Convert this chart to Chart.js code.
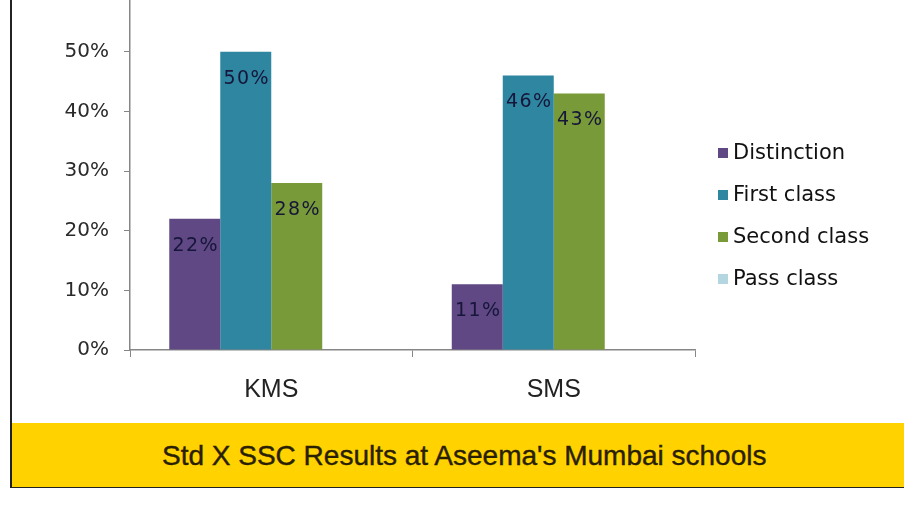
<!DOCTYPE html>
<html>
<head>
<meta charset="utf-8">
<script src="https://cdn.jsdelivr.net/npm/chart.js@4.4.1/dist/chart.umd.min.js"></script>
<style>
  html, body { margin: 0; padding: 0; background: #fff; }
  body { width: 904px; height: 507px; position: relative; overflow: hidden; }
  #frame {
    position: absolute; left: 10px; top: -4px; width: 900px; height: 490px;
    border-left: 2px solid #222; border-bottom: 2px solid #222;
  }
  #wrap { position: absolute; left: 0; top: -35px; width: 904px; height: 455px; }
  #legend {
    position: absolute; left: 718px; top: 131px;
    font-family: "DejaVu Sans", sans-serif; font-size: 21px; color: #111;
  }
  .item { height: 42px; line-height: 42px; white-space: nowrap; }
  .box { display: inline-block; width: 10px; height: 10px; margin-right: 5px; vertical-align: 1px; }
  #band {
    position: absolute; left: 12px; top: 423px; width: 892px; height: 64px;
    background: #ffd200;
  }
  #title {
    position: absolute; left: 162px; top: 442px; line-height: 28px;
    font-family: "Liberation Sans", Arial, sans-serif; font-size: 28px;
    color: #2a1f00; white-space: nowrap; -webkit-text-stroke: 0.4px #2a1f00;
  }
</style>
</head>
<body>
<div id="frame"></div>
<div id="wrap"><canvas id="chart" width="904" height="455"></canvas></div>
<div id="legend"></div>
<div id="band"></div>
<div id="title">Std X SSC Results at Aseema's Mumbai schools</div>
<script>
// values (percent)
const schools = ["KMS", "SMS"];
const seriesNames = ["Distinction", "First class", "Second class", "Pass class"];
const distinction = [22, 11];
const firstClass = [50, 46];
const secondClass = [28, 43];
const passClass = [0, 0];
const yTicks = [0, 10, 20, 30, 40, 50, 60];

const colors = ["#5f4883", "#2e86a0", "#799a38", "#b4d6e1"];
const axisGray = "#868686";

// draw the value inside each bar, a bit below its top
const barLabels = {
  id: "barLabels",
  afterDatasetsDraw(chart) {
    const ctx = chart.ctx;
    ctx.save();
    ctx.font = '19px "DejaVu Sans", sans-serif';
    ctx.letterSpacing = "1.5px";
    ctx.fillStyle = "#16163a";
    ctx.textAlign = "center";
    ctx.textBaseline = "middle";
    chart.data.datasets.forEach((ds, i) => {
      chart.getDatasetMeta(i).data.forEach((bar, j) => {
        const v = ds.data[j];
        if (!v) return;
        ctx.fillText(v + "%", bar.x + 1, bar.y + 27);
      });
    });
    ctx.restore();
  },
};

const seriesData = [distinction, firstClass, secondClass, passClass];

new Chart(document.getElementById("chart"), {
  type: "bar",
  data: {
    labels: schools,
    datasets: seriesNames.map((name, i) => ({
      label: name,
      data: seriesData[i],
      backgroundColor: colors[i],
      borderWidth: 0,
      categoryPercentage: 0.722,
      barPercentage: 1,
    })),
  },
  options: {
    responsive: false,
    animation: false,
    layout: { padding: { left: 0, right: 209, top: 17, bottom: 0 } },
    plugins: { legend: { display: false }, tooltip: { enabled: false } },
    scales: {
      x: {
        grid: {
          display: true, drawOnChartArea: false, drawTicks: true,
          tickLength: 7, color: axisGray, offset: true,
        },
        border: { display: true, color: axisGray, width: 1.5 },
        ticks: {
          color: "#222",
          padding: 18,
          font: { family: '"Liberation Sans", Arial, sans-serif', size: 25 },
        },
        afterFit: (scale) => { scale.height = 70; },
      },
      y: {
        min: 0,
        max: 60,
        afterBuildTicks: (scale) => { scale.ticks = yTicks.map((v) => ({ value: v })); },
        grid: {
          display: true, drawOnChartArea: false, drawTicks: true,
          tickLength: 6, color: axisGray,
        },
        border: { display: true, color: axisGray, width: 1.5 },
        ticks: {
          color: "#2a2a2a",
          padding: 15,
          font: { family: '"DejaVu Sans", sans-serif', size: 20 },
          callback: (v) => v + "%",
        },
        afterFit: (scale) => { scale.width = 130; },
      },
    },
  },
  plugins: [barLabels],
});

const legend = document.getElementById("legend");
seriesNames.forEach((name, i) => {
  const row = document.createElement("div");
  row.className = "item";
  const box = document.createElement("span");
  box.className = "box";
  box.style.background = colors[i];
  row.appendChild(box);
  row.appendChild(document.createTextNode(name));
  legend.appendChild(row);
});
</script>
</body>
</html>
